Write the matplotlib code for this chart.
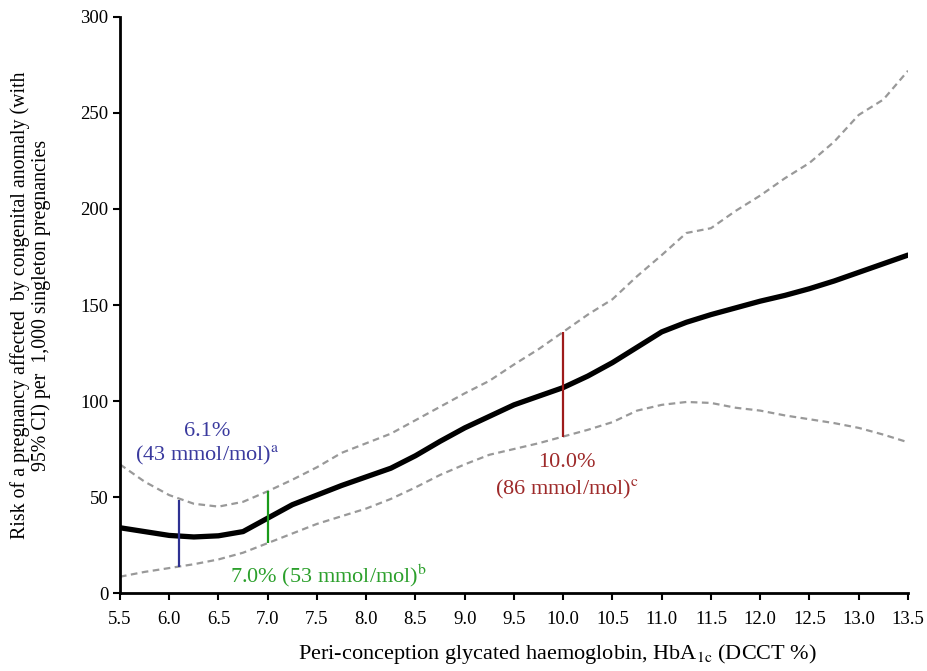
import matplotlib
matplotlib.use("Agg")
import matplotlib.pyplot as plt

plt.rcParams['font.family'] = ['Liberation Serif', 'DejaVu Serif']
plt.rcParams['mathtext.fontset'] = 'stix'

hba1c = [5.5, 5.75, 6.0, 6.25, 6.5, 6.75, 7.0, 7.25, 7.5, 7.75, 8.0, 8.25, 8.5, 8.75,
         9.0, 9.25, 9.5, 9.75, 10.0, 10.25, 10.5, 10.75, 11.0, 11.25, 11.5, 11.75,
         12.0, 12.25, 12.5, 12.75, 13.0, 13.25, 13.5]
risk = [34, 32, 30, 29.2, 29.8, 32, 39, 46, 51, 56, 60.5, 65, 71.5, 79,
        86, 92, 98, 102.5, 107, 113, 120, 128, 136, 141, 145, 148.5,
        152, 155, 158.5, 162.5, 167, 171.5, 176]
upper = [67, 58, 51, 46.5, 45, 47.5, 53, 59, 65.5, 73, 78, 83, 90, 97,
         104, 110.5, 119, 127, 136, 145, 153, 165, 176, 187.5, 190, 199,
         207, 216, 224, 235, 249, 257, 272]
lower = [8.5, 11, 13, 15, 17.5, 21, 26, 31, 36, 40, 44, 49, 55, 61.5,
         67, 72, 75, 78, 81.5, 85, 89, 95, 98, 99.5, 99, 96.5,
         95, 92.5, 90.5, 88.5, 86, 82.5, 78.5]

markers_x = [6.1, 7.0, 10.0]
markers_lo = [13.5, 26, 81.5]
markers_hi = [48.5, 53, 136]
marker_colors = ['#2e3192', '#1a9a1a', '#9e1b1b']

xticks = [5.5 + 0.5 * i for i in range(17)]
yticks = [0, 50, 100, 150, 200, 250, 300]

fig = plt.figure(figsize=(9.27, 6.71), dpi=100)
ax = fig.add_axes([0.1294, 0.1162, 0.8501, 0.8585])

ax.plot(hba1c, upper, color='#999999', lw=1.6, ls=(0, (3, 2)))
ax.plot(hba1c, lower, color='#999999', lw=1.6, ls=(0, (3, 2)))
ax.plot(hba1c, risk, color='black', lw=3.8, solid_capstyle='round', solid_joinstyle='round')

for xv, lo, hi, c in zip(markers_x, markers_lo, markers_hi, marker_colors):
    ax.vlines(xv, lo, hi, color=c, lw=1.6)

ax.text(6.39, 84, '6.1%', color='#3a3a9e', fontsize=16, ha='center', va='center')
ax.text(6.39, 71.5, r'(43 mmol/mol)$^{\mathrm{a}}$', color='#3a3a9e', fontsize=16, ha='center', va='center')
ax.text(7.62, 9, r'7.0% (53 mmol/mol)$^{\mathrm{b}}$', color='#2ca02c', fontsize=16, ha='center', va='center')
ax.text(10.04, 68, '10.0%', color='#9e2a2a', fontsize=16, ha='center', va='center')
ax.text(10.04, 54, r'(86 mmol/mol)$^{\mathrm{c}}$', color='#9e2a2a', fontsize=16, ha='center', va='center')

ax.set_xlim(5.5, 13.5)
ax.set_ylim(0, 300)
ax.set_xticks(xticks)
ax.set_xticklabels([f'{v:.1f}' for v in xticks])
ax.set_yticks(yticks)
ax.tick_params(axis='both', labelsize=13.5, direction='out', length=5, width=1.5)
ax.tick_params(axis='x', pad=8)

for s in ['top', 'right']:
    ax.spines[s].set_visible(False)
for s in ['left', 'bottom']:
    ax.spines[s].set_linewidth(2)

ax.set_xlabel(r'Peri-conception glycated haemoglobin, HbA$_{\mathrm{1c}}$ (DCCT %)', fontsize=16)
ax.xaxis.set_label_coords(0.555, -0.085)
ax.set_ylabel('Risk of a pregnancy affected  by congenital anomaly (with\n95% CI) per  1,000 singleton pregnancies',
              fontsize=14.3, linespacing=1.05)
ax.yaxis.set_label_coords(-0.088, 0.5)

fig.savefig('out.png', dpi=100)
